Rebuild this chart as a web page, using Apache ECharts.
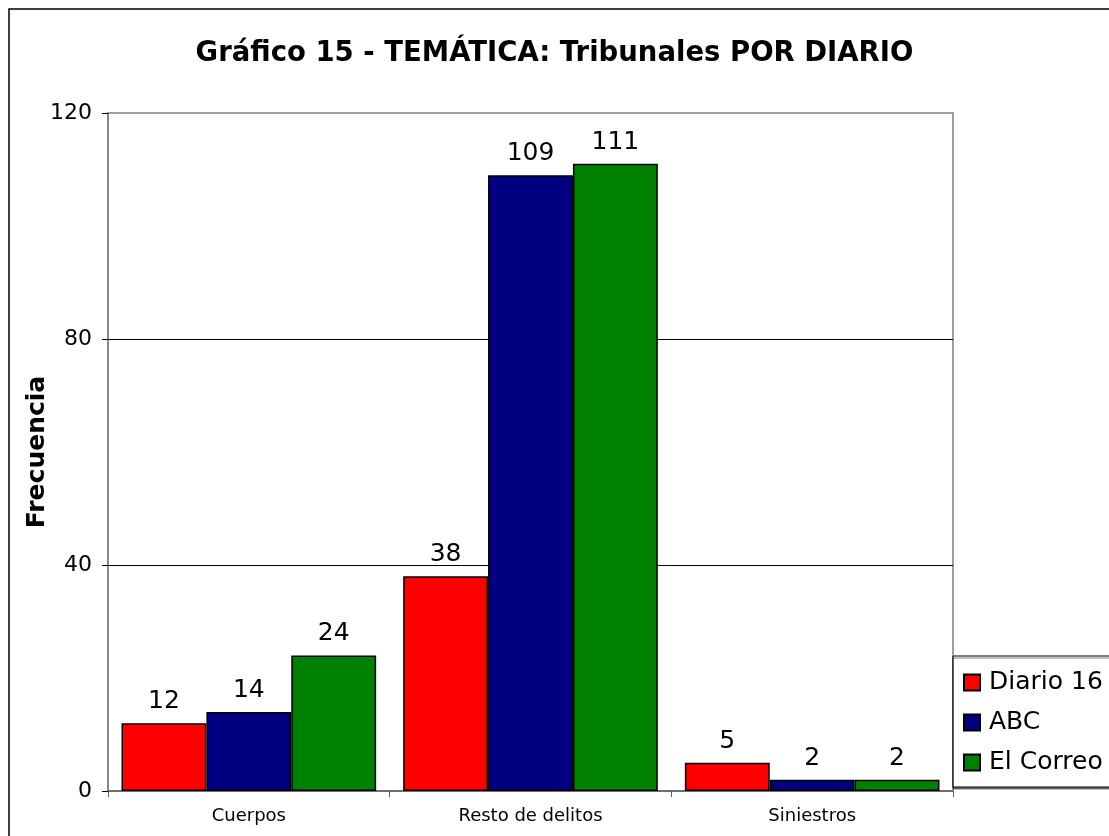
<!DOCTYPE html>
<html>
<head>
<meta charset="utf-8">
<script src="https://cdn.jsdelivr.net/npm/echarts@6/dist/echarts.min.js"></script>
<style>
    html, body { margin: 0; padding: 0; background: #fff; }
    #chart { width: 1109px; height: 836px; }
</style>
</head>
<body>
<div id="chart"></div>
<script>
const CATEGORIES = ["Cuerpos", "Resto de delitos", "Siniestros"];
const DIARIO16 = [12, 38, 5];
const ABC = [14, 109, 2];
const EL_CORREO = [24, 111, 2];
const Y_TICKS = { min: 0, max: 120, interval: 40 };

const FONT = "DejaVu Sans";

const barSeries = (name, data, color) => ({
    name,
    type: "bar",
    data,
    barGap: "0%",
    barCategoryGap: "9.6%",
    itemStyle: { color, borderColor: "#000", borderWidth: 1.5 },
    label: {
        show: true,
        position: "top",
        distance: 9,
        color: "#000",
        fontFamily: FONT,
        fontSize: 25,
    },
});

const chart = echarts.init(document.getElementById("chart"));
chart.setOption({
    animation: false,
    backgroundColor: "#fff",
    title: {
        text: "Gráfico 15 - TEMÁTICA: Tribunales POR DIARIO",
        left: "center",
        top: 35,
        textStyle: { fontFamily: FONT, fontSize: 27.5, fontWeight: "bold", color: "#000" },
    },
    graphic: [{
        type: "rect",
        shape: { x: 9, y: 9, width: 1300, height: 1000 },
        style: { fill: "none", stroke: "#000", lineWidth: 1.5 },
        z: 100,
    }],
    legend: {
        orient: "vertical",
        left: 953,
        top: 656,
        padding: [14, 40, 12, 10],
        itemGap: 15,
        itemWidth: 16,
        itemHeight: 16,
        icon: "rect",
        backgroundColor: "#fff",
        borderColor: "#000",
        borderWidth: 1,
        shadowColor: "rgba(0,0,0,0.5)",
        shadowOffsetY: 2,
        shadowOffsetX: 0,
        textStyle: { fontFamily: FONT, fontSize: 25, color: "#000", padding: [0, 0, 0, 4] },
        data: ["Diario 16", "ABC", "El Correo"],
    },
    grid: {
        left: 108,
        right: 156,
        top: 113,
        bottom: 45,
        show: true,
        borderColor: "#808080",
        borderWidth: 1.5,
        backgroundColor: "#fff",
    },
    xAxis: {
        type: "category",
        data: CATEGORIES,
        axisLine: { lineStyle: { color: "#606060", width: 1.5 } },
        axisTick: { show: true, length: 6, lineStyle: { color: "#606060" } },
        axisLabel: { fontFamily: FONT, fontSize: 18, color: "#000", margin: 16 },
    },
    yAxis: {
        type: "value",
        min: Y_TICKS.min,
        max: Y_TICKS.max,
        interval: Y_TICKS.interval,
        name: "Frecuencia",
        nameLocation: "middle",
        nameGap: 58,
        nameMoveOverlap: false,
        nameTextStyle: { fontFamily: FONT, fontSize: 25, fontWeight: "bold", color: "#000" },
        axisLine: { show: true, lineStyle: { color: "#808080", width: 1.5 } },
        axisTick: { show: true, length: 6, lineStyle: { color: "#000" } },
        axisLabel: { fontFamily: FONT, fontSize: 22, color: "#000", margin: 16 },
        splitLine: { show: true, showMaxLine: false, showMinLine: false, lineStyle: { color: "#000", width: 1 } },
    },
    series: [
        barSeries("Diario 16", DIARIO16, "#FF0000"),
        barSeries("ABC", ABC, "#000080"),
        barSeries("El Correo", EL_CORREO, "#008000"),
    ],
});
</script>
</body>
</html>
